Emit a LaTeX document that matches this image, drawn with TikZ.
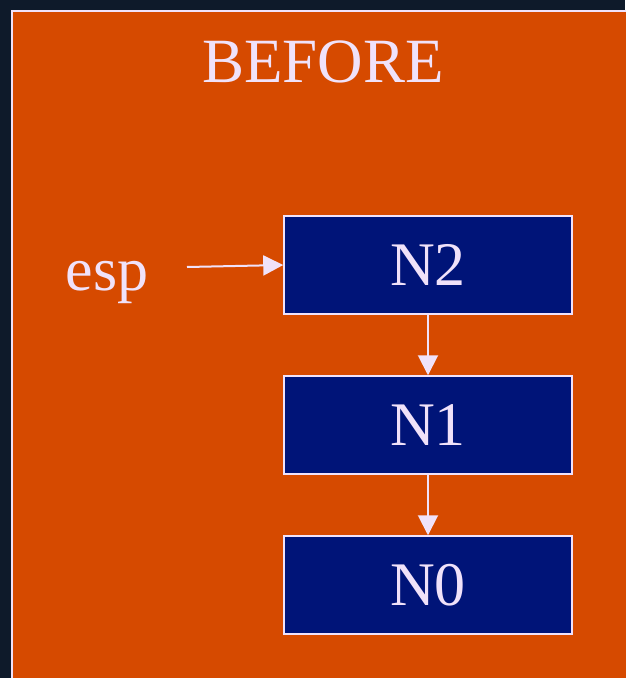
\documentclass[tikz,border=0pt]{standalone}
\usepackage{fontspec}
\setmainfont{Liberation Serif}
\usetikzlibrary{arrows.meta}
\definecolor{deepnight}{HTML}{0E1A2A}
\definecolor{panelorange}{HTML}{D64A00}
\definecolor{boxnavy}{HTML}{001478}
\definecolor{lavender}{HTML}{F0E2FA}
\begin{document}
\begin{tikzpicture}[x=1pt,y=-1pt,
  stackbox/.style={draw=lavender, line width=1.5pt, fill=boxnavy,
    minimum width=288pt, minimum height=98pt, inner sep=0pt,
    text=lavender, font=\fontsize{62}{62}\selectfont},
  label/.style={text=lavender, inner sep=0pt, anchor=base},
  link/.style={draw=lavender, line width=2pt,
    -{Triangle[length=20pt,width=20pt]}}]
  % backdrop and panel
  \fill[deepnight] (0,0) rectangle (625,678);
  \useasboundingbox (0,0) rectangle (625,678);
  \fill[panelorange] (11.5,10.5) rectangle (630,690);
  \draw[lavender, line width=2pt] (11.5,690) -- (11.5,10.5) -- (630,10.5);
  % title
  \node[label, font=\fontsize{63}{63}\selectfont] (title) at (323,82) {BEFORE};
  % stack nodes
  \node[stackbox] (n2) at (428,265) {N2};
  \node[stackbox] (n1) at (428,425) {N1};
  \node[stackbox] (n0) at (428,585) {N0};
  % stack pointer
  \node[label, font=\fontsize{62}{62}\selectfont] (esp) at (107,290) {esp};
  \coordinate (espstart) at (187,267);
  \draw[link] (espstart) -- (n2.west);
  \draw[link] (n2.south) -- (n1.north);
  \draw[link] (n1.south) -- (n0.north);
\end{tikzpicture}
\end{document}
